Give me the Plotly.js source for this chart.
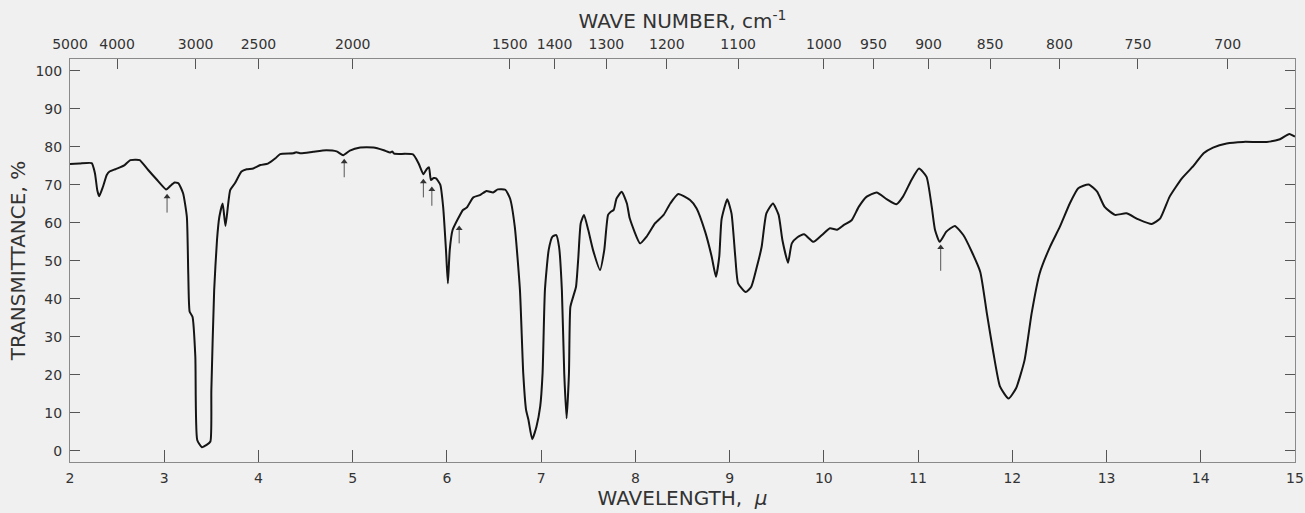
<!DOCTYPE html>
<html>
<head>
<meta charset="utf-8">
<script src="https://cdn.plot.ly/plotly-3.0.1.min.js"></script>
<style>
  html, body { margin: 0; padding: 0; background: #f0f0f0; }
  #chart { width: 1305px; height: 513px; }
</style>
</head>
<body>
<div id="chart"></div>
<script>
// Wavelength (micrometres) and transmittance (%)
const wavelength = [
  2.00, 2.10, 2.23, 2.265, 2.29, 2.31, 2.35, 2.39, 2.42, 2.48, 2.53, 2.58, 2.64, 2.70, 2.74,
  2.83, 2.92, 2.97, 3.02, 3.06, 3.11, 3.15, 3.20, 3.24, 3.255, 3.27, 3.30, 3.33, 3.35, 3.40,
  3.45, 3.49, 3.50, 3.53, 3.56, 3.585, 3.62, 3.65, 3.70, 3.75, 3.82, 3.875, 3.945, 4.02, 4.10,
  4.18, 4.23, 4.37, 4.40, 4.45, 4.58, 4.72, 4.83, 4.90, 4.97, 5.08, 5.22, 5.33, 5.40, 5.42,
  5.44, 5.64, 5.70, 5.75, 5.785, 5.81, 5.83, 5.86, 5.885, 5.93, 5.96, 5.99, 6.01, 6.03, 6.06,
  6.12, 6.17, 6.21, 6.28, 6.35, 6.42, 6.49, 6.54, 6.62, 6.67, 6.72, 6.775, 6.81, 6.84, 6.865,
  6.905, 6.95, 6.99, 7.015, 7.04, 7.08, 7.12, 7.16, 7.19, 7.22, 7.245, 7.27, 7.295, 7.31, 7.34,
  7.37, 7.395, 7.42, 7.455, 7.50, 7.55, 7.625, 7.67, 7.71, 7.74, 7.77, 7.80, 7.855, 7.91, 7.94,
  8.05, 8.12, 8.21, 8.30, 8.37, 8.455, 8.58, 8.65, 8.74, 8.81, 8.855, 8.89, 8.915, 8.975, 9.02,
  9.06, 9.09, 9.17, 9.23, 9.29, 9.34, 9.39, 9.46, 9.52, 9.56, 9.62, 9.66, 9.72, 9.79, 9.89,
  9.98, 10.065, 10.14, 10.21, 10.295, 10.37, 10.455, 10.56, 10.67, 10.77, 10.84, 10.93, 11.01, 11.09, 11.145,
  11.18, 11.23, 11.30, 11.39, 11.48, 11.57, 11.66, 11.73, 11.80, 11.87, 11.96, 12.04, 12.13, 12.205, 12.29,
  12.40, 12.505, 12.61, 12.70, 12.81, 12.90, 12.98, 13.09, 13.21, 13.34, 13.48, 13.57, 13.67, 13.80, 13.92,
  14.03, 14.13, 14.275, 14.45, 14.70, 14.84, 14.94, 15.00
];
const transmittance = [
  75.5, 75.6, 75.7, 73.0, 68.5, 67.0, 69.5, 72.6, 73.5, 74.1, 74.6, 75.2, 76.5, 76.6, 76.5,
  73.9, 71.4, 70.0, 68.8, 69.6, 70.6, 70.4, 67.8, 61.6, 46.7, 36.6, 35.3, 24.8, 2.9, 1.0,
  1.6, 2.5, 16.0, 42.3, 55.5, 61.6, 65.1, 59.2, 68.6, 70.4, 73.5, 74.1, 74.3, 75.2, 75.6,
  77.0, 78.1, 78.3, 78.6, 78.3, 78.7, 79.1, 78.8, 77.8, 79.0, 79.8, 79.8, 79.1, 78.5, 78.8,
  78.2, 78.0, 75.6, 72.8, 74.1, 74.6, 71.3, 71.8, 71.7, 70.0, 64.2, 52.9, 44.1, 52.9, 58.1,
  61.2, 63.4, 64.0, 66.7, 67.3, 68.4, 68.0, 68.8, 68.7, 66.4, 59.0, 42.3, 20.4, 10.8, 8.2,
  3.1, 6.4, 11.7, 20.4, 42.3, 52.9, 56.4, 56.8, 53.7, 42.3, 20.4, 8.6, 20.4, 37.9, 40.6,
  43.2, 51.1, 59.9, 62.1, 58.1, 52.9, 47.6, 52.9, 62.1, 62.9, 63.4, 66.4, 68.2, 65.1, 61.2,
  54.6, 56.4, 59.9, 62.1, 65.1, 67.6, 66.0, 63.8, 57.7, 51.1, 45.8, 51.1, 61.0, 66.2, 62.5,
  51.1, 44.1, 41.8, 43.2, 48.5, 53.7, 62.5, 65.1, 62.1, 55.5, 49.5, 54.6, 56.2, 57.0, 55.0,
  56.8, 58.6, 58.2, 59.4, 60.7, 64.2, 66.9, 68.0, 66.2, 64.9, 66.9, 71.3, 74.3, 72.1, 64.2,
  58.1, 55.0, 57.7, 59.2, 56.8, 52.4, 47.1, 36.2, 25.7, 16.9, 13.8, 16.5, 23.9, 36.2, 46.7,
  53.7, 59.0, 65.1, 69.1, 70.1, 68.2, 64.2, 62.1, 62.5, 60.9, 59.7, 61.2, 66.9, 71.7, 74.9,
  78.3, 79.8, 80.9, 81.3, 81.3, 82.0, 83.4, 82.7
];

// Marked bands (arrows): wavelength, tip transmittance, tail transmittance
const arrowWavelength = [3.03, 4.91, 5.75, 5.84, 6.13, 11.24];
const arrowTip        = [67.8, 77.0, 71.7, 69.7, 59.4, 54.4];
const arrowTail       = [62.7, 72.0, 66.7, 64.5, 54.6, 47.4];

// Axis ticks
const wavelengthTicks = [2, 3, 4, 5, 6, 7, 8, 9, 10, 11, 12, 13, 14, 15];
const transmittanceTicks = [0, 10, 20, 30, 40, 50, 60, 70, 80, 90, 100];
const waveNumberTicks = [5000, 4000, 3000, 2500, 2000, 1500, 1400, 1300, 1200, 1100, 1000, 950, 900, 850, 800, 750, 700];

const FONT = "'DejaVu Sans', 'Liberation Sans', sans-serif";
const TEXT = '#333333';
const FRAME = '#8a8a8a';

// Arrow shafts: tail -> tip segments separated by gaps
const shaftX = [], shaftY = [];
arrowWavelength.forEach((w, i) => {
  shaftX.push(w, w, null);
  shaftY.push(arrowTail[i], arrowTip[i] - 1.2, null);
});

const traces = [
  {
    x: wavelength, y: transmittance,
    type: 'scatter', mode: 'lines',
    line: { color: '#151515', width: 2, shape: 'spline', smoothing: 0.5 },
    hoverinfo: 'skip', showlegend: false
  },
  {
    x: shaftX, y: shaftY,
    type: 'scatter', mode: 'lines',
    line: { color: '#555555', width: 1 },
    hoverinfo: 'skip', showlegend: false
  },
  {
    x: arrowWavelength, y: arrowTip.map(v => v - 0.9),
    type: 'scatter', mode: 'markers',
    marker: { symbol: 'triangle-up', size: 6, color: '#333333', line: { width: 0 } },
    hoverinfo: 'skip', showlegend: false
  },
  {
    x: wavelength, y: transmittance,
    xaxis: 'x2', type: 'scatter', mode: 'none',
    hoverinfo: 'skip', showlegend: false
  }
];

const layout = {
  width: 1305, height: 513,
  margin: { l: 70, r: 10, t: 59, b: 51, pad: 0 },
  paper_bgcolor: '#f0f0f0', plot_bgcolor: '#f0f0f0',
  font: { family: FONT, color: TEXT, size: 14 },
  showlegend: false,
  xaxis: {
    range: [2, 15], tickmode: 'array', tickvals: wavelengthTicks,
    ticks: 'inside', ticklen: 12, tickwidth: 1, tickcolor: '#555',
    showline: true, linecolor: FRAME, linewidth: 1, mirror: false,
    showgrid: false, zeroline: false,
    ticklabelstandoff: 3,
    tickfont: { family: FONT, size: 14, color: TEXT },
    title: { text: 'WAVELENGTH,  <i>µ</i>', font: { family: FONT, size: 20, color: TEXT }, standoff: 4 },
    automargin: false
  },
  xaxis2: {
    overlaying: 'x', side: 'top', anchor: 'y',
    range: [2, 15], tickmode: 'array',
    tickvals: waveNumberTicks.map(n => 10000 / n),
    ticktext: waveNumberTicks.map(String),
    ticks: 'inside', ticklen: 10, tickwidth: 1, tickcolor: '#555',
    showline: true, linecolor: FRAME, linewidth: 1,
    showgrid: false, zeroline: false,
    ticklabelstandoff: 3,
    tickfont: { family: FONT, size: 14, color: TEXT },
    title: { text: 'WAVE NUMBER, cm<sup>-1</sup>', font: { family: FONT, size: 20, color: TEXT }, standoff: 2 },
    automargin: false
  },
  yaxis: {
    range: [-2.9, 103.1], tickmode: 'array', tickvals: transmittanceTicks,
    ticks: 'inside', ticklen: 10, tickwidth: 1, tickcolor: '#555',
    showline: true, linecolor: FRAME, linewidth: 1, mirror: 'ticks',
    showgrid: false, zeroline: false,
    ticklabelstandoff: 4,
    tickfont: { family: FONT, size: 14, color: TEXT },
    title: { text: 'TRANSMITTANCE, %', font: { family: FONT, size: 20, color: TEXT }, standoff: 4 },
    automargin: false
  }
};

Plotly.newPlot('chart', traces, layout, { staticPlot: true, displayModeBar: false });
</script>
</body>
</html>
